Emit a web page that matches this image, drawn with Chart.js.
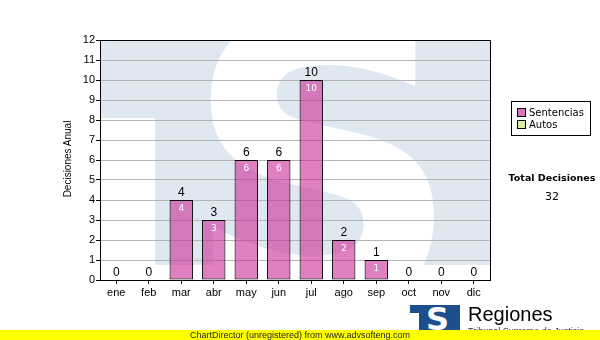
<!DOCTYPE html>
<html>
<head>
<meta charset="utf-8">
<script src="https://cdn.jsdelivr.net/npm/chart.js@4/dist/chart.umd.min.js"></script>
<style>
  html, body { margin:0; padding:0; background:#fff; }
  #wrap { position:relative; width:600px; height:340px; overflow:hidden; background:#fff; }
  #c { position:absolute; left:0; top:0; }
  .abs { position:absolute; white-space:nowrap; }
  #ytitle { left:18px; top:153px; width:100px; height:12px; line-height:12px; text-align:center; transform:rotate(-90deg); transform-origin:50% 50%; font:10px "Liberation Sans", Arial, sans-serif; color:#000; }
  #legend { left:511px; top:101px; width:78px; height:33px; border:1px solid #000; font:10px "DejaVu Sans", Verdana, sans-serif; color:#000; }
  .lg { position:absolute; left:5px; height:11px; line-height:11px; }
  .sw { display:inline-block; width:7px; height:7px; border:1px solid #000; vertical-align:-1px; margin-right:3px; }
  #totT { left:502px; top:172px; width:100px; text-align:center; font:bold 9.5px "DejaVu Sans", Verdana, sans-serif; color:#000; }
  #totV { left:502px; top:190px; width:100px; text-align:center; font:11px "DejaVu Sans", Verdana, sans-serif; color:#000; }
  #logo { left:410px; top:305px; width:50px; height:28px; background:#1d4f8f; overflow:hidden; }
  #logoS { position:absolute; left:16px; top:-5px; font:bold 32px "DejaVu Sans", sans-serif; color:#fff; }
  #logoT { position:absolute; left:0; top:8px; width:9px; height:22px; background:#fff; }
  #reg { left:468px; top:303px; font:20px "Liberation Sans", Arial, sans-serif; color:#000; }
  #sub { left:468px; top:326px; font:9px "Liberation Sans", Arial, sans-serif; color:#333; }
  #footer { left:0; top:330px; width:600px; height:10px; background:#ffff00; font:9px "Liberation Sans", Arial, sans-serif; line-height:10px; color:#222; text-align:center; }
</style>
</head>
<body>
<div id="wrap">
  <canvas id="c" width="600" height="340"></canvas>
  <div id="ytitle" class="abs">Decisiones Anual</div>
  <div id="legend" class="abs">
    <div class="lg" style="top:5px"><span class="sw" style="background:#d872c0"></span>Sentencias</div>
    <div class="lg" style="top:17px"><span class="sw" style="background:#d6eda3"></span>Autos</div>
  </div>
  <div id="totT" class="abs">Total Decisiones</div>
  <div id="totV" class="abs"></div>
  <div id="logo" class="abs"><div id="logoT"></div><div id="logoS">S</div></div>
  <div id="reg" class="abs">Regiones</div>
  <div id="sub" class="abs">Tribunal Supremo de Justicia</div>
  <div id="footer" class="abs">ChartDirector (unregistered) from www.advsofteng.com</div>
</div>
<script>
const months = ['ene','feb','mar','abr','may','jun','jul','ago','sep','oct','nov','dic'];
const sentencias = [0,0,4,3,6,6,10,2,1,0,0,0];
const autos = [0,0,0,0,0,0,0,0,0,0,0,0];
const yMin = 0, yMax = 12, yStep = 1;

const totals = months.map((m,i) => sentencias[i] + autos[i]);
document.getElementById('totV').textContent = totals.reduce((a,b)=>a+b,0);

const watermark = {
  id:'watermark',
  beforeDraw(chart){
    const {ctx, chartArea:a} = chart;
    ctx.save();
    ctx.beginPath(); ctx.rect(a.left, a.top, a.right-a.left, a.bottom-a.top); ctx.clip();
    ctx.fillStyle = '#dfe8f1';
    ctx.fillRect(a.left + 55, a.top - 20, 400, 245);
    ctx.fillRect(a.left, a.top - 20, 60, 98);
    ctx.fillStyle = '#ffffff';
    ctx.font = 'bold 200px "DejaVu Sans"';
    const m = ctx.measureText('S');
    const gw = m.actualBoundingBoxLeft + m.actualBoundingBoxRight;
    const gh = m.actualBoundingBoxAscent + m.actualBoundingBoxDescent;
    const bx = a.left + 110, by = a.top - 30, bw = 225, bh = 300;
    ctx.translate(bx, by);
    ctx.scale(bw/gw, bh/gh);
    ctx.textBaseline = 'alphabetic';
    ctx.fillText('S', m.actualBoundingBoxLeft, m.actualBoundingBoxAscent);
    ctx.restore();
  }
};

const frame = {
  id:'frame',
  afterDatasetsDraw(chart){
    const {ctx, chartArea:a} = chart;
    ctx.save();
    ctx.strokeStyle = '#000'; ctx.lineWidth = 1;
    ctx.beginPath();
    ctx.moveTo(a.left, Math.round(a.top)+0.5);
    ctx.lineTo(Math.round(a.right)+0.5, Math.round(a.top)+0.5);
    ctx.lineTo(Math.round(a.right)+0.5, a.bottom);
    ctx.stroke();
    ctx.restore();
  }
};

const labels = {
  id:'labels',
  afterDatasetsDraw(chart){
    const {ctx} = chart;
    const meta = chart.getDatasetMeta(0);
    const ys = chart.scales.y;
    ctx.save();
    ctx.textAlign = 'center';
    meta.data.forEach((bar, i) => {
      const top = ys.getPixelForValue(totals[i]);
      ctx.fillStyle = '#000';
      ctx.font = '12px "Liberation Sans", Arial, sans-serif';
      ctx.textBaseline = 'bottom';
      ctx.fillText(String(totals[i]), bar.x, top - 1);
      if (sentencias[i] > 0) {
        ctx.fillStyle = '#ffffff';
        ctx.font = '9px "DejaVu Sans", sans-serif';
        ctx.textBaseline = 'top';
        ctx.fillText(String(sentencias[i]), bar.x, ys.getPixelForValue(sentencias[i]) + 4);
      }
    });
    ctx.restore();
  }
};

new Chart(document.getElementById('c'), {
  type:'bar',
  data:{
    labels: months,
    datasets:[
      { label:'Sentencias', data: sentencias, backgroundColor:'rgba(204,51,153,0.62)', borderColor:'#000',
        borderWidth: c => (c.raw ? 1 : 0), borderSkipped:false, barPercentage:0.72, categoryPercentage:1 },
      { label:'Autos', data: autos, backgroundColor:'rgba(200,230,140,0.8)', borderColor:'#000',
        borderWidth: c => (c.raw ? 1 : 0), borderSkipped:false, barPercentage:0.72, categoryPercentage:1 }
    ]
  },
  options:{
    responsive:false, animation:false, devicePixelRatio:1,
    layout:{ padding:{ left:60, right:110, top:40, bottom:40 } },
    plugins:{ legend:{display:false}, tooltip:{enabled:false}, title:{display:false} },
    scales:{
      x:{
        stacked:true, offset:true,
        grid:{ display:true, drawOnChartArea:false, offset:false, tickLength:4, tickColor:'#000' },
        border:{ color:'#000', width:1 },
        ticks:{ color:'#000', font:{ family:'"Liberation Sans", Arial, sans-serif', size:11 }, padding:2, maxRotation:0, autoSkip:false },
        afterFit(s){ s.height = 20; }
      },
      y:{
        stacked:true, min:yMin, max:yMax,
        grid:{ color:'#b4b4b4', lineWidth:1, tickLength:4, tickColor:'#000' },
        border:{ color:'#000', width:1 },
        ticks:{ stepSize:yStep, color:'#000', font:{ family:'"Liberation Sans", Arial, sans-serif', size:11 }, padding:1 },
        afterFit(s){ s.width = 40; }
      }
    }
  },
  plugins:[watermark, frame, labels]
});
</script>
</body>
</html>
